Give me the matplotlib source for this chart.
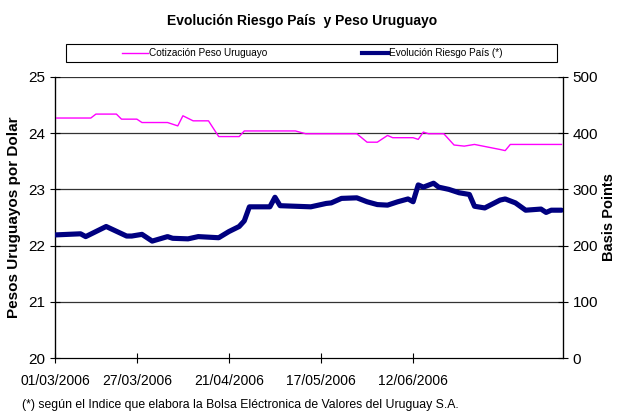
import matplotlib
matplotlib.use("Agg")
import matplotlib.pyplot as plt
from matplotlib.patches import Rectangle
from matplotlib.lines import Line2D

plt.rcParams['font.family'] = ['Liberation Sans', 'DejaVu Sans']

# trading-day index -> value
peso_x = [0, 7, 8, 12, 13, 16, 17, 22, 24, 25, 27, 30, 32, 36, 37, 47, 49, 59, 61, 63,
          65, 66, 70, 71, 72, 73, 76, 78, 80, 82, 87, 88, 89, 99]
peso_y = [24.27, 24.27, 24.34, 24.34, 24.25, 24.25, 24.19, 24.19, 24.13, 24.31, 24.22,
          24.22, 23.94, 23.94, 24.04, 24.04, 23.99, 23.99, 23.84, 23.84, 23.96, 23.92,
          23.92, 23.89, 24.02, 23.99, 23.99, 23.79, 23.77, 23.80, 23.71, 23.69, 23.80, 23.80]

riesgo_x = [0, 5, 6, 10, 14, 15, 17, 19, 22, 23, 26, 28, 32, 34, 36, 37, 38, 42, 43, 44,
            50, 51, 53, 54, 56, 59, 61, 63, 65, 67, 69, 70, 71, 72, 74, 75, 77, 79, 81,
            82, 84, 87, 88, 90, 92, 95, 96, 97, 99]
riesgo_y = [219, 221, 216, 234, 217, 217, 220, 208, 216, 213, 212, 216, 214, 225, 234,
            244, 269, 269, 286, 271, 269, 271, 275, 276, 284, 285, 278, 273, 272, 278,
            283, 278, 308, 304, 311, 304, 300, 294, 291, 270, 267, 281, 283, 276, 263,
            265, 259, 263, 263]

tick_pos = [0, 16, 34, 52, 70]
tick_labels = ['01/03/2006', '27/03/2006', '21/04/2006', '17/05/2006', '12/06/2006']

fig = plt.figure(figsize=(6.19, 4.17), dpi=100)
ax = fig.add_axes([55 / 619, 1 - 358 / 417, (563 - 55) / 619, (358 - 77) / 417])
ax2 = ax.twinx()

ax.plot(peso_x, peso_y, color='#FF00FF', lw=1.0, zorder=3)
ax2.plot(riesgo_x, riesgo_y, color='#000080', lw=3.7, solid_capstyle='round',
         solid_joinstyle='round', zorder=3)

ax.set_xlim(0, 99.3)
ax.set_ylim(20, 25)
ax2.set_ylim(0, 500)
ax.set_yticks([20, 21, 22, 23, 24, 25])
ax2.set_yticks([0, 100, 200, 300, 400, 500])
ax.set_xticks(tick_pos)
ax.set_xticklabels(tick_labels)
for v in [21, 22, 23, 24, 25]:
    ax.axhline(v, color='#333333', lw=0.9, zorder=1)

for a in (ax, ax2):
    a.spines['top'].set_visible(False)
    a.tick_params(direction='inout', length=7, width=0.8, labelsize=11)
ax.tick_params(axis='x', pad=8, labelsize=10)
ax.spines['left'].set_linewidth(0.9)
ax2.spines['right'].set_linewidth(0.9)

ax.set_ylabel('Pesos Uruguayos por Dolar', fontsize=11, fontweight='bold', labelpad=5)
ax2.set_ylabel('Basis Points', fontsize=10.5, fontweight='bold', labelpad=3)

fig.text(302 / 619, 1 - 21 / 417, 'Evolución Riesgo País  y Peso Uruguayo',
         ha='center', va='center', fontsize=10, fontweight='bold')

# legend box
fig.patches.append(Rectangle((66 / 619, 1 - 62 / 417), (557 - 66) / 619, 18 / 417,
                             transform=fig.transFigure, fill=False, ec='black', lw=0.8))
handles = [Line2D([], [], color='#FF00FF', lw=1.0), Line2D([], [], color='#000080', lw=3)]
fig.legend(handles, ['Cotización Peso Uruguayo', 'Evolución Riesgo País (*)'],
           loc='center', bbox_to_anchor=(312 / 619, 1 - 53 / 417), ncol=2, frameon=False,
           fontsize=7.2, handlelength=2.6, handletextpad=0.1, columnspacing=9.5)

fig.text(22 / 619, 1 - 405 / 417,
         '(*) según el Indice que elabora la Bolsa Eléctronica de Valores del Uruguay S.A.',
         ha='left', va='center', fontsize=8.8)

fig.savefig('out.png', dpi=100)
